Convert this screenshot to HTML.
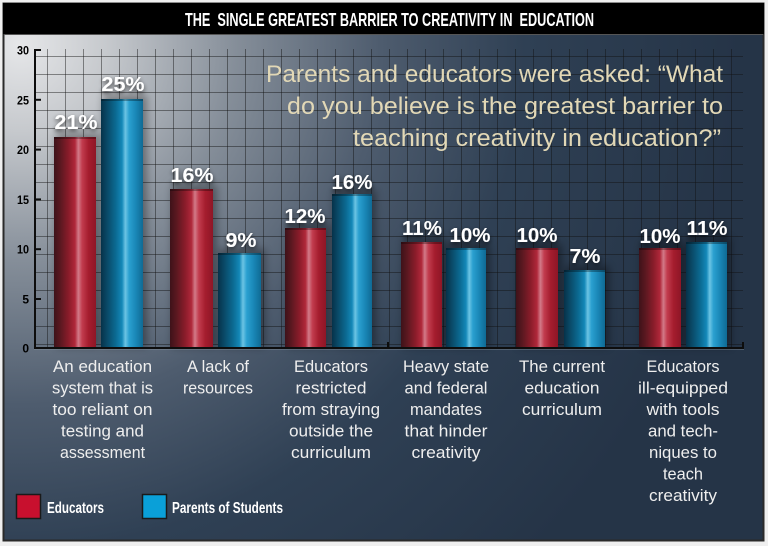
<!DOCTYPE html>
<html>
<head>
<meta charset="utf-8">
<style>
  html,body{margin:0;padding:0;background:#efefef;}
  svg{display:block;}
  text{font-family:"Liberation Sans", Arial, sans-serif;}
</style>
</head>
<body>
<svg width="768" height="546" viewBox="0 0 768 546" xmlns="http://www.w3.org/2000/svg">
  <defs>
    <radialGradient id="bg" gradientUnits="userSpaceOnUse" cx="20" cy="45" r="720">
      <stop offset="0" stop-color="#e6e7e9"/>
      <stop offset="0.12" stop-color="#c6c9cd"/>
      <stop offset="0.3" stop-color="#858e99"/>
      <stop offset="0.5" stop-color="#4e5c6e"/>
      <stop offset="0.7" stop-color="#2f4054"/>
      <stop offset="1" stop-color="#253447"/>
    </radialGradient>
    <linearGradient id="red" x1="0" y1="0" x2="1" y2="0">
      <stop offset="0" stop-color="#3e1219"/>
      <stop offset="0.15" stop-color="#5a1820"/>
      <stop offset="0.35" stop-color="#8a1c2a"/>
      <stop offset="0.5" stop-color="#b0283a"/>
      <stop offset="0.58" stop-color="#d27a88"/>
      <stop offset="0.67" stop-color="#c23c4e"/>
      <stop offset="0.82" stop-color="#a51d2e"/>
      <stop offset="1" stop-color="#8e1626"/>
    </linearGradient>
    <linearGradient id="blue" x1="0" y1="0" x2="1" y2="0">
      <stop offset="0" stop-color="#06324a"/>
      <stop offset="0.15" stop-color="#0a4a68"/>
      <stop offset="0.35" stop-color="#0b6a92"/>
      <stop offset="0.5" stop-color="#1488b8"/>
      <stop offset="0.58" stop-color="#6cc4e4"/>
      <stop offset="0.67" stop-color="#2aa0d0"/>
      <stop offset="0.82" stop-color="#1a88b8"/>
      <stop offset="1" stop-color="#0f6a94"/>
    </linearGradient>
    <filter id="blur" x="-50%" y="-50%" width="200%" height="200%">
      <feGaussianBlur stdDeviation="4"/>
    </filter>
    <filter id="tshadow" x="-30%" y="-50%" width="160%" height="200%">
      <feGaussianBlur in="SourceAlpha" stdDeviation="2.5" result="b"/>
      <feOffset in="b" dx="0" dy="2" result="o"/>
      <feComponentTransfer in="o" result="s"><feFuncA type="linear" slope="0.7"/></feComponentTransfer>
      <feMerge><feMergeNode in="s"/><feMergeNode in="SourceGraphic"/></feMerge>
    </filter>
  </defs>

  <!-- frame -->
  <rect x="0" y="0" width="768" height="546" fill="#efefef"/>
  <rect x="3.5" y="3.5" width="760" height="537" fill="url(#bg)" stroke="#2a2a2a" stroke-width="2"/>
  <rect x="3" y="3" width="761" height="31" fill="#000"/>
  <line x1="4" y1="34.5" x2="763" y2="34.5" stroke="#555" stroke-width="1"/>

  <text x="389.5" y="26" fill="#fff" font-size="18" font-weight="bold" text-anchor="middle" textLength="409" lengthAdjust="spacingAndGlyphs" xml:space="preserve">THE  SINGLE GREATEST BARRIER TO CREATIVITY IN  EDUCATION</text>

  <!-- grid -->
  <g stroke="#111" stroke-opacity="0.45" stroke-width="1">
    <line x1="47.5" y1="49" x2="47.5" y2="348"/><line x1="65.5" y1="49" x2="65.5" y2="348"/><line x1="83.5" y1="49" x2="83.5" y2="348"/><line x1="101.5" y1="49" x2="101.5" y2="348"/><line x1="119.5" y1="49" x2="119.5" y2="348"/><line x1="137.5" y1="49" x2="137.5" y2="348"/><line x1="155.5" y1="49" x2="155.5" y2="348"/><line x1="173.5" y1="49" x2="173.5" y2="348"/><line x1="191.5" y1="49" x2="191.5" y2="348"/><line x1="209.5" y1="49" x2="209.5" y2="348"/><line x1="227.5" y1="49" x2="227.5" y2="348"/><line x1="245.5" y1="49" x2="245.5" y2="348"/><line x1="263.5" y1="49" x2="263.5" y2="348"/><line x1="281.5" y1="49" x2="281.5" y2="348"/><line x1="299.5" y1="49" x2="299.5" y2="348"/><line x1="317.5" y1="49" x2="317.5" y2="348"/><line x1="335.5" y1="49" x2="335.5" y2="348"/><line x1="353.5" y1="49" x2="353.5" y2="348"/><line x1="371.5" y1="49" x2="371.5" y2="348"/><line x1="389.5" y1="49" x2="389.5" y2="348"/><line x1="407.5" y1="49" x2="407.5" y2="348"/><line x1="425.5" y1="49" x2="425.5" y2="348"/><line x1="443.5" y1="49" x2="443.5" y2="348"/><line x1="461.5" y1="49" x2="461.5" y2="348"/><line x1="479.5" y1="49" x2="479.5" y2="348"/><line x1="497.5" y1="49" x2="497.5" y2="348"/><line x1="515.5" y1="49" x2="515.5" y2="348"/><line x1="533.5" y1="49" x2="533.5" y2="348"/><line x1="551.5" y1="49" x2="551.5" y2="348"/><line x1="569.5" y1="49" x2="569.5" y2="348"/><line x1="587.5" y1="49" x2="587.5" y2="348"/><line x1="605.5" y1="49" x2="605.5" y2="348"/><line x1="623.5" y1="49" x2="623.5" y2="348"/><line x1="641.5" y1="49" x2="641.5" y2="348"/><line x1="659.5" y1="49" x2="659.5" y2="348"/><line x1="677.5" y1="49" x2="677.5" y2="348"/><line x1="695.5" y1="49" x2="695.5" y2="348"/><line x1="713.5" y1="49" x2="713.5" y2="348"/><line x1="731.5" y1="49" x2="731.5" y2="348"/>
    <line x1="34" y1="56.5" x2="743" y2="56.5"/><line x1="34" y1="74.5" x2="743" y2="74.5"/><line x1="34" y1="92.5" x2="743" y2="92.5"/><line x1="34" y1="110.5" x2="743" y2="110.5"/><line x1="34" y1="128.5" x2="743" y2="128.5"/><line x1="34" y1="146.5" x2="743" y2="146.5"/><line x1="34" y1="164.5" x2="743" y2="164.5"/><line x1="34" y1="182.5" x2="743" y2="182.5"/><line x1="34" y1="200.5" x2="743" y2="200.5"/><line x1="34" y1="218.5" x2="743" y2="218.5"/><line x1="34" y1="236.5" x2="743" y2="236.5"/><line x1="34" y1="254.5" x2="743" y2="254.5"/><line x1="34" y1="272.5" x2="743" y2="272.5"/><line x1="34" y1="290.5" x2="743" y2="290.5"/><line x1="34" y1="308.5" x2="743" y2="308.5"/><line x1="34" y1="326.5" x2="743" y2="326.5"/><line x1="34" y1="344.5" x2="743" y2="344.5"/>
  </g>

  <!-- subtitle -->
  <g fill="#e2d8b6" font-size="24" text-anchor="end">
    <text x="723" y="82" textLength="457" lengthAdjust="spacingAndGlyphs">Parents and educators were asked: “What</text>
    <text x="723" y="114" textLength="436" lengthAdjust="spacingAndGlyphs">do you believe is the greatest barrier to</text>
    <text x="721" y="146" textLength="368" lengthAdjust="spacingAndGlyphs">teaching creativity in education?”</text>
  </g>

  <!-- bar shadows -->
  <g fill="#000" opacity="0.35" filter="url(#blur)">
    <rect x="56" y="133" width="44" height="214"/>
    <rect x="103" y="95" width="44" height="252"/>
    <rect x="172" y="185" width="45" height="162"/>
    <rect x="220" y="249" width="45" height="98"/>
    <rect x="287" y="224" width="43" height="123"/>
    <rect x="334" y="190" width="42" height="157"/>
    <rect x="403" y="238" width="43" height="109"/>
    <rect x="448" y="244" width="42" height="103"/>
    <rect x="518" y="244" width="44" height="103"/>
    <rect x="566" y="266" width="43" height="81"/>
    <rect x="641" y="244" width="44" height="103"/>
    <rect x="688" y="238" width="43" height="109"/>
  </g>

  <!-- bars -->
  <rect x="54" y="137" width="42" height="210" fill="url(#red)"/>
  <rect x="101" y="99" width="42" height="248" fill="url(#blue)"/>
  <rect x="170" y="189" width="43" height="158" fill="url(#red)"/>
  <rect x="218" y="253" width="43" height="94" fill="url(#blue)"/>
  <rect x="285" y="228" width="41" height="119" fill="url(#red)"/>
  <rect x="332" y="194" width="40" height="153" fill="url(#blue)"/>
  <rect x="401" y="242" width="41" height="105" fill="url(#red)"/>
  <rect x="446" y="248" width="40" height="99" fill="url(#blue)"/>
  <rect x="516" y="248" width="42" height="99" fill="url(#red)"/>
  <rect x="564" y="270" width="41" height="77" fill="url(#blue)"/>
  <rect x="639" y="248" width="42" height="99" fill="url(#red)"/>
  <rect x="686" y="242" width="41" height="105" fill="url(#blue)"/>
  <g fill="#000" opacity="0.3">
    <rect x="54" y="137" width="42" height="2"/><rect x="101" y="99" width="42" height="2"/>
    <rect x="170" y="189" width="43" height="2"/><rect x="218" y="253" width="43" height="2"/>
    <rect x="285" y="228" width="41" height="2"/><rect x="332" y="194" width="40" height="2"/>
    <rect x="401" y="242" width="41" height="2"/><rect x="446" y="248" width="40" height="2"/>
    <rect x="516" y="248" width="42" height="2"/><rect x="564" y="270" width="41" height="2"/>
    <rect x="639" y="248" width="42" height="2"/><rect x="686" y="242" width="41" height="2"/>
  </g>

  <!-- axes -->
  <g stroke="#0d0d0d" stroke-width="2">
    <line x1="35" y1="49" x2="35" y2="349"/>
    <line x1="34" y1="348" x2="744" y2="348"/>
    <line x1="34" y1="50" x2="41" y2="50"/>
    <line x1="34" y1="99.8" x2="41" y2="99.8"/>
    <line x1="34" y1="149.6" x2="41" y2="149.6"/>
    <line x1="34" y1="199.4" x2="41" y2="199.4"/>
    <line x1="34" y1="249.2" x2="41" y2="249.2"/>
    <line x1="34" y1="299" x2="41" y2="299"/>
    <line x1="743" y1="342" x2="743" y2="348"/>
    <line x1="388" y1="342" x2="388" y2="348"/>
  </g>
  <line x1="34" y1="349.5" x2="744" y2="349.5" stroke="#8a96a2" stroke-opacity="0.4" stroke-width="1"/>

  <g fill="#000" font-size="12" font-weight="bold" text-anchor="end">
    <text x="29" y="54.5" textLength="12" lengthAdjust="spacingAndGlyphs">30</text>
    <text x="29" y="104.3" textLength="12" lengthAdjust="spacingAndGlyphs">25</text>
    <text x="29" y="154.1" textLength="12" lengthAdjust="spacingAndGlyphs">20</text>
    <text x="29" y="203.9" textLength="12" lengthAdjust="spacingAndGlyphs">15</text>
    <text x="29" y="253.7" textLength="12" lengthAdjust="spacingAndGlyphs">10</text>
    <text x="29" y="303.5">5</text>
    <text x="29" y="352.5">0</text>
  </g>

  <!-- value labels -->
  <g fill="#fff" font-size="20" font-weight="bold" text-anchor="middle" filter="url(#tshadow)">
    <text x="76" y="129" textLength="43" lengthAdjust="spacingAndGlyphs">21%</text>
    <text x="123" y="91" textLength="43" lengthAdjust="spacingAndGlyphs">25%</text>
    <text x="192" y="182" textLength="43" lengthAdjust="spacingAndGlyphs">16%</text>
    <text x="241" y="247" textLength="31" lengthAdjust="spacingAndGlyphs">9%</text>
    <text x="305" y="223" textLength="41" lengthAdjust="spacingAndGlyphs">12%</text>
    <text x="352" y="189" textLength="41" lengthAdjust="spacingAndGlyphs">16%</text>
    <text x="422" y="235" textLength="40" lengthAdjust="spacingAndGlyphs">11%</text>
    <text x="470" y="242" textLength="41" lengthAdjust="spacingAndGlyphs">10%</text>
    <text x="537" y="242" textLength="41" lengthAdjust="spacingAndGlyphs">10%</text>
    <text x="585" y="263" textLength="31" lengthAdjust="spacingAndGlyphs">7%</text>
    <text x="660" y="243" textLength="41" lengthAdjust="spacingAndGlyphs">10%</text>
    <text x="707" y="235" textLength="41" lengthAdjust="spacingAndGlyphs">11%</text>
  </g>

  <!-- category labels -->
  <g fill="#eeeeee" font-size="17" text-anchor="middle">
    <text x="102.5" y="372" textLength="99" lengthAdjust="spacingAndGlyphs">An education</text>
    <text x="102.5" y="393.5" textLength="101" lengthAdjust="spacingAndGlyphs">system that is</text>
    <text x="102.5" y="415" textLength="100" lengthAdjust="spacingAndGlyphs">too reliant on</text>
    <text x="102.5" y="436.5" textLength="83" lengthAdjust="spacingAndGlyphs">testing and</text>
    <text x="102.5" y="458" textLength="85" lengthAdjust="spacingAndGlyphs">assessment</text>

    <text x="218" y="372" textLength="62" lengthAdjust="spacingAndGlyphs">A lack of</text>
    <text x="218" y="393.5" textLength="70" lengthAdjust="spacingAndGlyphs">resources</text>

    <text x="331" y="372" textLength="74" lengthAdjust="spacingAndGlyphs">Educators</text>
    <text x="331" y="393.5" textLength="71" lengthAdjust="spacingAndGlyphs">restricted</text>
    <text x="331" y="415" textLength="98" lengthAdjust="spacingAndGlyphs">from straying</text>
    <text x="331" y="436.5" textLength="84" lengthAdjust="spacingAndGlyphs">outside the</text>
    <text x="331" y="458" textLength="80" lengthAdjust="spacingAndGlyphs">curriculum</text>

    <text x="446" y="372" textLength="86" lengthAdjust="spacingAndGlyphs">Heavy state</text>
    <text x="446" y="393.5" textLength="83" lengthAdjust="spacingAndGlyphs">and federal</text>
    <text x="446" y="415" textLength="72" lengthAdjust="spacingAndGlyphs">mandates</text>
    <text x="446" y="436.5" textLength="83" lengthAdjust="spacingAndGlyphs">that hinder</text>
    <text x="446" y="458" textLength="69" lengthAdjust="spacingAndGlyphs">creativity</text>

    <text x="562" y="372" textLength="86" lengthAdjust="spacingAndGlyphs">The current</text>
    <text x="562" y="393.5" textLength="75" lengthAdjust="spacingAndGlyphs">education</text>
    <text x="562" y="415" textLength="80" lengthAdjust="spacingAndGlyphs">curriculum</text>

    <text x="683" y="372" textLength="73" lengthAdjust="spacingAndGlyphs">Educators</text>
    <text x="683" y="393.5" textLength="90" lengthAdjust="spacingAndGlyphs">ill-equipped</text>
    <text x="683" y="415" textLength="73" lengthAdjust="spacingAndGlyphs">with tools</text>
    <text x="683" y="436.5" textLength="70" lengthAdjust="spacingAndGlyphs">and tech-</text>
    <text x="683" y="458" textLength="68" lengthAdjust="spacingAndGlyphs">niques to</text>
    <text x="683" y="479.5" textLength="40" lengthAdjust="spacingAndGlyphs">teach</text>
    <text x="683" y="501" textLength="68" lengthAdjust="spacingAndGlyphs">creativity</text>
  </g>

  <!-- legend -->
  <rect x="16.5" y="494.5" width="24" height="24" fill="#c8102e" stroke="#1a1a1a" stroke-width="1.5"/>
  <rect x="142.5" y="494.5" width="24" height="24" fill="#0aa0d8" stroke="#1a1a1a" stroke-width="1.5"/>
  <g fill="#fff" font-size="16" font-weight="bold">
    <text x="47" y="513" textLength="57" lengthAdjust="spacingAndGlyphs">Educators</text>
    <text x="172" y="513" textLength="111" lengthAdjust="spacingAndGlyphs">Parents of Students</text>
  </g>
</svg>
</body>
</html>
